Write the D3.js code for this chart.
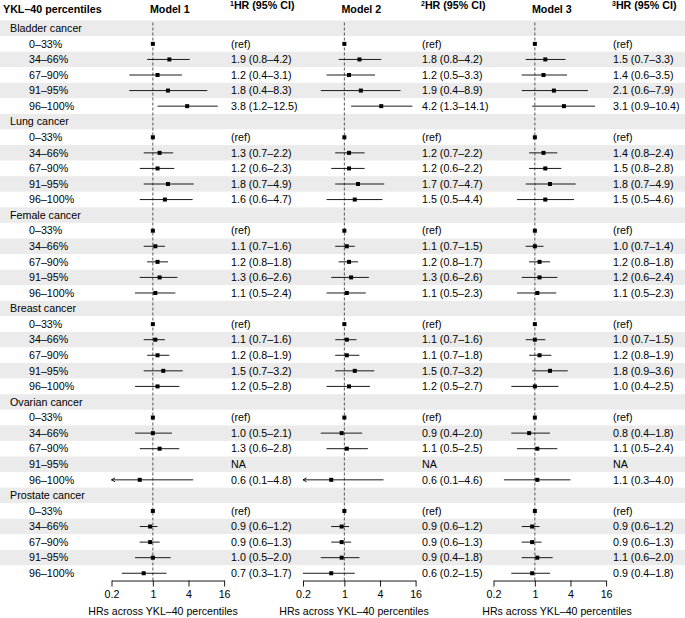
<!DOCTYPE html>
<html>
<head>
<meta charset="utf-8">
<script src="https://cdn.jsdelivr.net/npm/d3@7"></script>
<style>
  body { margin: 0; background: #fff; }
  text { font-family: "Liberation Sans", Arial, sans-serif; }
</style>
</head>
<body>
<div id="chart"></div>
<script>
// cancer groups and YKL-40 percentile rows
const groups = ["Bladder cancer", "Lung cancer", "Female cancer", "Breast cancer", "Ovarian cancer", "Prostate cancer"];
const percentiles = ["0–33%", "34–66%", "67–90%", "91–95%", "96–100%"];
const models = ["Model 1", "Model 2", "Model 3"];
const tickValues = [0.2, 1, 4, 16];

// [HR, lower, upper] for 34–66, 67–90, 91–95, 96–100 (0–33 is ref), null = NA
const model1 = [
  [[1.9, 0.8, 4.2], [1.2, 0.4, 3.1], [1.8, 0.4, 8.3], [3.8, 1.2, 12.5]],
  [[1.3, 0.7, 2.2], [1.2, 0.6, 2.3], [1.8, 0.7, 4.9], [1.6, 0.6, 4.7]],
  [[1.1, 0.7, 1.6], [1.2, 0.8, 1.8], [1.3, 0.6, 2.6], [1.1, 0.5, 2.4]],
  [[1.1, 0.7, 1.6], [1.2, 0.8, 1.9], [1.5, 0.7, 3.2], [1.2, 0.5, 2.8]],
  [[1.0, 0.5, 2.1], [1.3, 0.6, 2.8], null, [0.6, 0.1, 4.8]],
  [[0.9, 0.6, 1.2], [0.9, 0.6, 1.3], [1.0, 0.5, 2.0], [0.7, 0.3, 1.7]]
];
const model2 = [
  [[1.8, 0.8, 4.2], [1.2, 0.5, 3.3], [1.9, 0.4, 8.9], [4.2, 1.3, 14.1]],
  [[1.2, 0.7, 2.2], [1.2, 0.6, 2.2], [1.7, 0.7, 4.7], [1.5, 0.5, 4.4]],
  [[1.1, 0.7, 1.5], [1.2, 0.8, 1.7], [1.3, 0.6, 2.6], [1.1, 0.5, 2.3]],
  [[1.1, 0.7, 1.6], [1.1, 0.7, 1.8], [1.5, 0.7, 3.2], [1.2, 0.5, 2.7]],
  [[0.9, 0.4, 2.0], [1.1, 0.5, 2.5], null, [0.6, 0.1, 4.6]],
  [[0.9, 0.6, 1.2], [0.9, 0.6, 1.3], [0.9, 0.4, 1.8], [0.6, 0.2, 1.5]]
];
const model3 = [
  [[1.5, 0.7, 3.3], [1.4, 0.6, 3.5], [2.1, 0.6, 7.9], [3.1, 0.9, 10.4]],
  [[1.4, 0.8, 2.4], [1.5, 0.8, 2.8], [1.8, 0.7, 4.9], [1.5, 0.5, 4.6]],
  [[1.0, 0.7, 1.4], [1.2, 0.8, 1.8], [1.2, 0.6, 2.4], [1.1, 0.5, 2.3]],
  [[1.0, 0.7, 1.5], [1.2, 0.8, 1.9], [1.8, 0.9, 3.6], [1.0, 0.4, 2.5]],
  [[0.8, 0.4, 1.8], [1.1, 0.5, 2.4], null, [1.1, 0.3, 4.0]],
  [[0.9, 0.6, 1.2], [0.9, 0.6, 1.3], [1.1, 0.6, 2.0], [0.9, 0.4, 1.8]]
];
const modelData = [model1, model2, model3];

const W = 685, H = 618;
const fontSize = 10.7;

const svg = d3.select("#chart")
  .append("svg")
  .attr("width", W)
  .attr("height", H);

// flatten rows: group header followed by its percentile rows
const rows = [];
groups.forEach((g, gi) => {
  rows.push({ type: "group", label: g, gi: gi });
  percentiles.forEach((p, pi) => {
    rows.push({ type: "sub", label: p, gi: gi, pi: pi });
  });
});

const rowH = 15.57;
const y0 = 28.3;
const yRow = i => y0 + i * rowH;
const tableBottom = yRow(rows.length - 1) + rowH / 2;

// alternating background bands
svg.append("g").selectAll("rect")
  .data(rows)
  .enter()
  .append("rect")
  .attr("x", 0)
  .attr("width", W)
  .attr("y", (d, i) => yRow(i) - rowH / 2)
  .attr("height", rowH)
  .attr("fill", (d, i) => i % 2 === 0 ? "#ebebeb" : "#ffffff");

// headers
const header = svg.append("g")
  .attr("font-size", fontSize + "px")
  .attr("font-weight", "bold")
  .attr("fill", "#000");

header.append("text")
  .attr("x", 3)
  .attr("y", 9)
  .attr("dy", "0.35em")
  .text("YKL–40 percentiles");

// panel positions (left edge of the 0.2–16 axis)
const panelLeft = [111.5, 303, 493.5];
const panelW = 112.6;
const hrColX = [231, 422, 613];

const scales = panelLeft.map(l => d3.scaleLog().base(2).domain([0.2, 16]).range([l, l + panelW]));

models.forEach((m, mi) => {
  header.append("text")
    .attr("x", scales[mi](1) + 17)
    .attr("y", 9)
    .attr("dy", "0.35em")
    .attr("text-anchor", "middle")
    .text(m);

  const t = header.append("text")
    .attr("x", hrColX[mi] - 1)
    .attr("y", 9)
    .attr("dy", "0.35em");
  t.append("tspan")
    .attr("font-size", "7px")
    .attr("dy", "-0.5em")
    .text(mi + 1);
  t.append("tspan")
    .attr("dy", "0.3em")
    .text("HR (95% CI)");
});

// row labels
svg.append("g")
  .attr("font-size", fontSize + "px")
  .attr("fill", "#000")
  .selectAll("text")
  .data(rows)
  .enter()
  .append("text")
  .attr("x", d => d.type === "group" ? 10 : 29)
  .attr("y", (d, i) => yRow(i))
  .attr("dy", "0.35em")
  .text(d => d.label);

const fmt = v => v.toFixed(1);

modelData.forEach((md, mi) => {
  const x = scales[mi];
  const g = svg.append("g");

  // reference line at HR = 1
  g.append("line")
    .attr("x1", x(1)).attr("x2", x(1))
    .attr("y1", yRow(0) - rowH / 2 + 2)
    .attr("y2", tableBottom)
    .attr("stroke", "#444")
    .attr("stroke-width", 0.9)
    .attr("stroke-dasharray", "3,2");

  rows.forEach((r, i) => {
    if (r.type !== "sub") return;
    const yy = yRow(i);
    let label;
    if (r.pi === 0) {
      label = "(ref)";
      g.append("rect")
        .attr("x", x(1) - 2).attr("y", yy - 2)
        .attr("width", 4).attr("height", 4)
        .attr("fill", "#000");
    } else {
      const v = md[r.gi][r.pi - 1];
      if (v == null) {
        label = "NA";
      } else {
        const [hr, lo, hi] = v;
        label = fmt(hr) + " (" + fmt(lo) + "–" + fmt(hi) + ")";
        const lo2 = Math.max(lo, 0.2);
        g.append("line")
          .attr("x1", x(lo2)).attr("x2", x(hi))
          .attr("y1", yy).attr("y2", yy)
          .attr("stroke", "#000")
          .attr("stroke-width", 0.9);
        if (lo < 0.2) {
          // CI runs past the axis: arrow head on the left
          const ax = x(lo2);
          g.append("path")
            .attr("d", "M" + (ax + 3.5) + "," + (yy - 2) + "L" + ax + "," + yy + "L" + (ax + 3.5) + "," + (yy + 2))
            .attr("fill", "none")
            .attr("stroke", "#000")
            .attr("stroke-width", 0.9);
        }
        g.append("rect")
          .attr("x", x(hr) - 2).attr("y", yy - 2)
          .attr("width", 4).attr("height", 4)
          .attr("fill", "#000");
      }
    }
    g.append("text")
      .attr("x", hrColX[mi])
      .attr("y", yy)
      .attr("dy", "0.35em")
      .attr("font-size", fontSize + "px")
      .attr("fill", "#000")
      .text(label);
  });

  // x axis
  const axis = d3.axisBottom(x)
    .tickValues(tickValues)
    .tickFormat(d => d)
    .tickSize(6)
    .tickSizeOuter(0);
  const ag = svg.append("g")
    .attr("transform", "translate(0," + (tableBottom - 0.5) + ")")
    .call(axis);
  ag.select(".domain").attr("stroke", "#000").attr("stroke-width", 0.9);
  ag.selectAll(".tick line").attr("stroke", "#000").attr("stroke-width", 0.9);
  ag.selectAll(".tick text")
    .attr("font-family", "Liberation Sans, Arial, sans-serif")
    .attr("font-size", fontSize + "px")
    .attr("fill", "#000")
    .attr("y", 10);

  svg.append("text")
    .attr("x", [163, 354, 557][mi])
    .attr("y", 611)
    .attr("dy", "0.35em")
    .attr("text-anchor", "middle")
    .attr("font-size", "10.6px")
    .attr("fill", "#000")
    .text("HRs across YKL–40 percentiles");
});
</script>
</body>
</html>
